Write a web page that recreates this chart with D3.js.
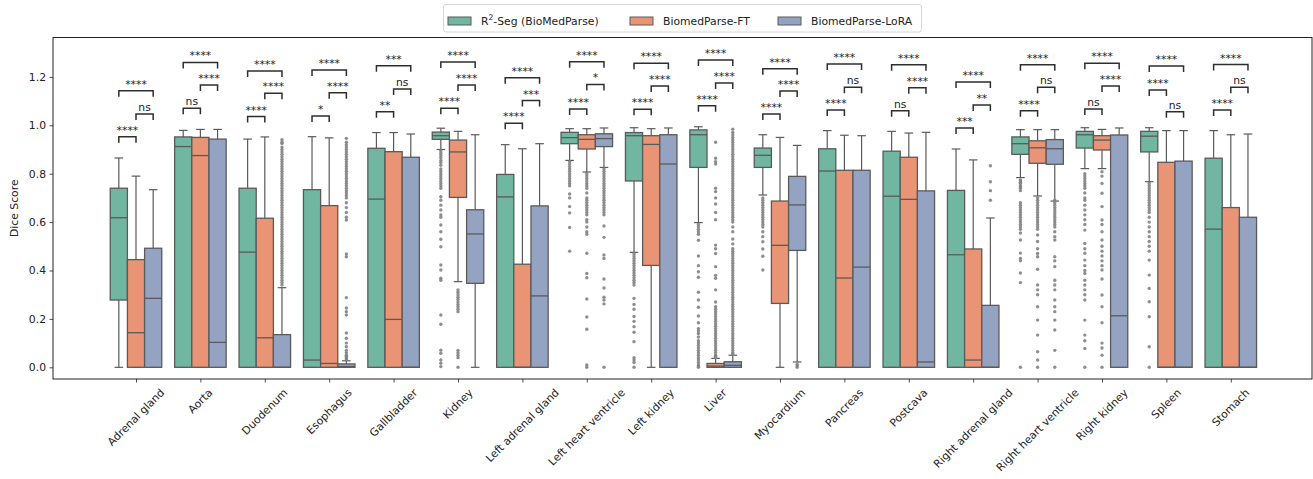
<!DOCTYPE html>
<html><head><meta charset="utf-8">
<script src="https://cdn.jsdelivr.net/npm/d3@7"></script>
<style>
html,body{margin:0;padding:0;background:#fff;}
svg{display:block;font-family:"DejaVu Sans",sans-serif;}
</style></head>
<body><svg id="chart" width="1313" height="479"></svg>
<script>
const categories = ["Adrenal gland","Aorta","Duodenum","Esophagus","Gallbladder","Kidney","Left adrenal gland","Left heart ventricle","Left kidney","Liver","Myocardium","Pancreas","Postcava","Right adrenal gland","Right heart ventricle","Right kidney","Spleen","Stomach"];
const models = ["R2-Seg (BioMedParse)","BiomedParse-FT","BiomedParse-LoRA"];
const yTicks = [0.0,0.2,0.4,0.6,0.8,1.0,1.2];

// R2-Seg (BioMedParse)
const r2Lo  = [0,0,0,0,0,0.90,0,0.855,0.475,0.598,0.712,0,0,0,0.784,0.821,0.767,0];
const r2Q1  = [0.278,0,0,0,0,0.942,0,0.924,0.77,0.826,0.826,0,0,0,0.88,0.906,0.89,0];
const r2Med = [0.618,0.912,0.476,0.03,0.695,0.957,0.704,0.949,0.957,0.961,0.876,0.811,0.707,0.465,0.924,0.961,0.955,0.571];
const r2Q3  = [0.74,0.952,0.74,0.734,0.905,0.972,0.797,0.971,0.97,0.981,0.906,0.903,0.893,0.731,0.952,0.975,0.975,0.864];
const r2Hi  = [0.865,0.979,0.943,0.953,0.97,0.988,0.92,0.986,0.99,0.994,0.961,0.978,0.975,0.902,0.982,0.99,0.99,0.978];
// BiomedParse-FT
const ftLo  = [0,0,0,0,0,0.354,0,0.807,0,0,0,0,0,0,0.708,0.821,0,0];
const ftQ1  = [0,0,0,0,0,0.702,0,0.902,0.421,0,0.264,0,0,0,0.843,0.898,0,0];
const ftMed = [0.143,0.875,0.122,0.016,0.198,0.89,0,0.942,0.921,0.005,0.504,0.369,0.694,0.03,0.907,0.939,0,0];
const ftQ3  = [0.445,0.95,0.616,0.668,0.891,0.939,0.426,0.961,0.957,0.016,0.687,0.814,0.868,0.489,0.936,0.957,0.847,0.66];
const ftHi  = [0.79,0.983,0.952,0.948,0.97,0.975,0.903,0.986,0.986,0.037,0.95,0.959,0.968,0.857,0.982,0.983,0.978,0.961];
// BiomedParse-LoRA
const loLo  = [0,0,0,0,0,0,0,0.826,0,0,0.022,0,0,0,0.687,0,0,0];
const loQ1  = [0,0,0,0,0,0.347,0,0.912,0,0,0.483,0,0,0,0.839,0,0,0];
const loMed = [0.285,0.103,0,0.003,0,0.551,0.295,0.945,0.84,0.008,0.671,0.414,0.022,0,0.903,0.213,0,0];
const loQ3  = [0.492,0.943,0.135,0.014,0.868,0.651,0.667,0.965,0.961,0.023,0.789,0.814,0.729,0.256,0.941,0.96,0.852,0.62];
const loHi  = [0.734,0.983,0.329,0.027,0.964,0.961,0.924,0.989,0.989,0.05,0.917,0.957,0.971,0.617,0.982,0.989,0.978,0.964];

// outliers per category
const r2Out = [[],[],[],[],[],
 [0.895,0.885,0.875,0.866,0.855,0.846,0.835,0.82,0.81,0.8,0.79,0.78,0.77,0.76,0.75,0.74,0.705,0.69,0.67,0.65,0.63,0.62,0.588,0.56,0.529,0.498,0.423,0.402,0.368,0.36,0.216,0.178,0.071,0.058,0.03,0.017,0.003],
 [],
 [0.85,0.84,0.83,0.82,0.81,0.80,0.79,0.78,0.77,0.76,0.75,0.716,0.70,0.664,0.638,0.578,0.48],
 [0.47,0.46,0.45,0.44,0.43,0.42,0.41,0.40,0.39,0.38,0.37,0.36,0.35,0.34,0.285,0.26,0.24,0.21,0.19,0.168,0.145,0.106,0.04,0.03,0.02,0.0],
 [0.59,0.58,0.57,0.56,0.55,0.525,0.46,0.42,0.395,0.372,0.31,0.278,0.248,0.212,0.184,0.16,0.15,0.14,0.125,0.11,0.1,0.09,0.08,0.07,0.06,0.05,0.04,0.03,0.02,0.01,0.005,0.0],
 [0.70,0.69,0.68,0.67,0.66,0.65,0.64,0.63,0.62,0.61,0.60,0.59,0.58,0.56,0.54,0.519,0.489,0.459,0.402],
 [],[],[],
 [0.774,0.77,0.765,0.76,0.75,0.745,0.74,0.73,0.68,0.67,0.66,0.65,0.64,0.63,0.62,0.61,0.60,0.59,0.58,0.57,0.555,0.526,0.472,0.45,0.44,0.39,0.35,0.0],
 [0.80,0.79,0.78,0.77,0.76,0.75,0.74,0.72,0.70,0.69,0.67,0.65,0.63,0.61,0.59,0.567,0.512,0.49,0.471,0.443,0.42,0.40,0.388,0.36,0.34,0.32,0.30,0.278,0.195,0.133,0.11,0.078,0.0],
 [0.76,0.75,0.74,0.73,0.72,0.71,0.70,0.69,0.68,0.67,0.66,0.65,0.64,0.62,0.60,0.58,0.56,0.54,0.52,0.50,0.48,0.443,0.381,0.326,0.271,0.209,0.085,0.0],
 []];
const ftOut = [[],[],[],[],[],
 [0.32,0.31,0.30,0.29,0.28,0.27,0.26,0.25,0.24,0.23,0.07,0.06,0.05,0.04,0.0],
 [],
 [0.80,0.79,0.78,0.77,0.76,0.75,0.74,0.72,0.70,0.69,0.68,0.67,0.66,0.65,0.64,0.63,0.61,0.60,0.58,0.56,0.55,0.471,0.388,0.37,0.282,0.208,0.157,0.01,0.0],
 [],
 [0.93,0.864,0.85,0.84,0.74,0.726,0.70,0.675,0.64,0.61,0.505,0.49,0.47,0.416,0.38,0.368,0.32,0.27,0.25,0.24,0.23,0.22,0.21,0.2,0.19,0.18,0.17,0.16,0.15,0.14,0.13,0.12,0.11,0.10,0.09,0.08,0.07,0.06,0.05,0.045,0.04],
 [],[],[],[],
 [0.70,0.69,0.68,0.67,0.66,0.65,0.64,0.63,0.62,0.61,0.60,0.59,0.58,0.57,0.547,0.52,0.49,0.47,0.457,0.405,0.34,0.32,0.30,0.25,0.195,0.133,0.064,0.03,0.0],
 [0.808,0.79,0.76,0.719,0.664,0.609,0.59,0.56,0.526,0.50,0.48,0.46,0.44,0.42,0.402,0.365,0.299,0.25,0.184,0.10,0.08,0.05,0.0],
 [],[]];
const loOut = [[],[],
 [0.94,0.93,0.925,0.91,0.90,0.89,0.88,0.87,0.86,0.85,0.84,0.83,0.82,0.81,0.80,0.79,0.78,0.77,0.76,0.75,0.74,0.73,0.72,0.71,0.70,0.69,0.68,0.67,0.66,0.65,0.64,0.63,0.62,0.61,0.60,0.59,0.58,0.57,0.56,0.55,0.54,0.53,0.52,0.51,0.50,0.49,0.48,0.47,0.46,0.45,0.44,0.43,0.42,0.41,0.40,0.39,0.38,0.37,0.36,0.35,0.34],
 [0.946,0.93,0.92,0.91,0.90,0.89,0.88,0.87,0.86,0.85,0.84,0.83,0.82,0.81,0.80,0.79,0.78,0.77,0.76,0.75,0.74,0.73,0.72,0.71,0.70,0.68,0.66,0.64,0.62,0.609,0.468,0.457,0.288,0.245,0.23,0.216,0.142,0.12,0.10,0.085,0.07,0.06,0.05,0.045,0.04,0.035,0.03],
 [],[],[],
 [0.82,0.81,0.80,0.79,0.78,0.77,0.76,0.75,0.74,0.73,0.72,0.71,0.70,0.69,0.68,0.67,0.66,0.65,0.64,0.63,0.584,0.537,0.464,0.45,0.365,0.328,0.29,0.278,0.262,0.0],
 [],
 [0.984,0.97,0.96,0.95,0.94,0.93,0.92,0.91,0.90,0.89,0.88,0.87,0.86,0.85,0.84,0.83,0.82,0.81,0.80,0.79,0.78,0.77,0.76,0.75,0.74,0.73,0.72,0.71,0.70,0.69,0.68,0.67,0.66,0.65,0.64,0.63,0.62,0.61,0.60,0.58,0.56,0.53,0.51,0.49,0.48,0.47,0.46,0.45,0.44,0.43,0.42,0.41,0.40,0.39,0.38,0.37,0.36,0.35,0.34,0.33,0.32,0.31,0.30,0.29,0.28,0.27,0.26,0.25,0.24,0.23,0.22,0.21,0.20,0.19,0.18,0.17,0.16,0.15,0.14,0.13,0.12,0.11,0.10,0.09,0.08,0.07,0.06,0.055],
 [0.012,0.006,0.0],
 [],[],
 [0.833,0.767,0.73,0.69],
 [0.69,0.68,0.67,0.66,0.65,0.64,0.63,0.62,0.61,0.60,0.59,0.58,0.56,0.54,0.526,0.457,0.44,0.416,0.36,0.34,0.32,0.278,0.25,0.23,0.195,0.154,0.07,0.0],
 [],[],[]];

// significance annotations: label and bracket height (data units) per pair
const sig01 = ["****","ns","****","*","**","****","****","****","****","****","****","****","ns","***","****","ns","****","****"];
const sig12 = ["ns","****","****","****","ns","****","***","*","****","****","****","ns","****","**","ns","****","ns","ns"];
const sig02 = ["****","****","****","****","***","****","****","****","****","****","****","****","****","****","****","****","****","****"];
const h01 = [0.953,1.070,1.036,1.038,1.056,1.070,1.008,1.067,1.066,1.081,1.047,1.063,1.060,0.989,1.060,1.067,1.146,1.063];
const h12 = [1.047,1.167,1.132,1.135,1.150,1.167,1.102,1.169,1.162,1.175,1.142,1.157,1.155,1.084,1.157,1.162,1.056,1.157];
const h02 = [1.143,1.260,1.224,1.228,1.246,1.262,1.197,1.263,1.256,1.270,1.234,1.253,1.250,1.179,1.250,1.256,1.245,1.251];

const colors = ["#71b6a1","#e99575","#95a3c3"];
const lineCol = "#5a5a5a";
const FS = "10.8px";

const stats = [
  {lo:r2Lo,q1:r2Q1,med:r2Med,q3:r2Q3,hi:r2Hi,out:r2Out},
  {lo:ftLo,q1:ftQ1,med:ftMed,q3:ftQ3,hi:ftHi,out:ftOut},
  {lo:loLo,q1:loQ1,med:loMed,q3:loQ3,hi:loHi,out:loOut}
];

const L = 53, R = 1312, T = 37.5, B = 379;
const svg = d3.select("#chart");
const x = d3.scalePoint().domain(categories).range([136, 1230.8]);
const step = x.step();
const hue = d3.scaleBand().domain(models).range([-0.4*step, 0.4*step]).padding(0);
const bw = hue.bandwidth();
const y = d3.scaleLinear().domain([-0.0483, 1.3628]).range([B, T]);

// axes
const yAxis = d3.axisLeft(y).tickValues(yTicks).tickFormat(d3.format(".1f")).tickSize(3.5).tickPadding(3.5);
const gy = svg.append("g").attr("transform",`translate(${L},0)`).call(yAxis);
gy.select(".domain").remove();
gy.selectAll("text").attr("font-size",FS).attr("fill","#222").attr("font-family","DejaVu Sans");
gy.selectAll("line").attr("stroke","#222").attr("stroke-width",0.8);

const xAxis = d3.axisBottom(x).tickSize(3.5).tickFormat("");
const gx = svg.append("g").attr("transform",`translate(0,${B})`).call(xAxis);
gx.select(".domain").remove();
gx.selectAll("line").attr("stroke","#222").attr("stroke-width",0.8);

// rotated x labels (center-aligned like matplotlib rotation=45)
const xl = svg.append("g");
categories.forEach(c => {
  const t = xl.append("text").text(c).attr("font-size",FS).attr("fill","#222")
    .attr("text-anchor","middle").attr("dominant-baseline","central");
  const w = t.node().getComputedTextLength();
  const h = 12.5;
  const half = (w + h) / (2*Math.SQRT2);
  t.attr("transform",`translate(${x(c)},${B + 7.5 + half}) rotate(-45)`);
});

// y label
svg.append("text").text("Dice Score").attr("font-size",FS).attr("fill","#222")
  .attr("text-anchor","middle").attr("transform",`translate(18,${(T+B)/2}) rotate(-90)`);

// boxes
const gb = svg.append("g");
categories.forEach((c,i) => {
  models.forEach((m,k) => {
    const s = stats[k];
    const cx = x(c) + hue(m) + bw/2;
    const x0 = x(c) + hue(m);
    const g = gb.append("g");
    g.append("line").attr("x1",cx).attr("x2",cx).attr("y1",y(s.q3[i])).attr("y2",y(s.hi[i]))
      .attr("stroke",lineCol).attr("stroke-width",1.2);
    g.append("line").attr("x1",cx).attr("x2",cx).attr("y1",y(s.q1[i])).attr("y2",y(s.lo[i]))
      .attr("stroke",lineCol).attr("stroke-width",1.2);
    [s.hi[i], s.lo[i]].forEach(v => {
      g.append("line").attr("x1",cx-bw/4).attr("x2",cx+bw/4).attr("y1",y(v)).attr("y2",y(v))
        .attr("stroke",lineCol).attr("stroke-width",1.2);
    });
    g.append("rect").attr("x",x0).attr("width",bw)
      .attr("y",y(s.q3[i])).attr("height",Math.max(0.5,y(s.q1[i])-y(s.q3[i])))
      .attr("fill",colors[k]).attr("stroke",lineCol).attr("stroke-width",1.3);
    g.append("line").attr("x1",x0).attr("x2",x0+bw).attr("y1",y(s.med[i])).attr("y2",y(s.med[i]))
      .attr("stroke",lineCol).attr("stroke-width",1.3);
    g.selectAll("circle.f").data(s.out[i]).enter().append("circle")
      .attr("cx",cx).attr("cy",d=>y(d)).attr("r",1.7)
      .attr("fill","#828282").attr("fill-opacity",0.9);
  });
});

// significance brackets
const gs = svg.append("g");
const leg = 6;
function bracket(i, a, b, h, lab){
  const xa = x(categories[i]) + hue(models[a]) + bw/2;
  const xb = x(categories[i]) + hue(models[b]) + bw/2;
  const yy = y(h);
  gs.append("path").attr("d",`M${xa},${yy+leg}V${yy}H${xb}V${yy+leg}`)
    .attr("fill","none").attr("stroke","#2e2e2e").attr("stroke-width",1.5);
  gs.append("text").text(lab).attr("x",(xa+xb)/2).attr("y",yy-3)
    .attr("text-anchor","middle").attr("font-size",FS).attr("fill","#222");
}
categories.forEach((c,i) => {
  bracket(i,0,1,h01[i],sig01[i]);
  bracket(i,1,2,h12[i],sig12[i]);
  bracket(i,0,2,h02[i],sig02[i]);
});

// frame
svg.append("rect").attr("x",L).attr("y",T).attr("width",R-L).attr("height",B-T)
  .attr("fill","none").attr("stroke","#222").attr("stroke-width",1);

// legend
const lg = svg.append("g");
lg.append("rect").attr("x",443.5).attr("y",4.5).attr("width",478).attr("height",27.5).attr("rx",2.5)
  .attr("fill","#fff").attr("fill-opacity",0.8).attr("stroke","#d6d6d6").attr("stroke-width",1);
const legX = [448, 630, 778];
models.forEach((m,k) => {
  lg.append("rect").attr("x",legX[k]).attr("y",17).attr("width",23).attr("height",8)
    .attr("fill",colors[k]).attr("stroke",lineCol).attr("stroke-width",1);
  const t = lg.append("text").attr("x",legX[k]+33).attr("y",24.5).attr("font-size",FS).attr("fill","#222");
  if (k === 0) {
    t.append("tspan").text("R");
    t.append("tspan").text("2").attr("font-size","7.6px").attr("dy",-4.5);
    t.append("tspan").text("-Seg (BioMedParse)").attr("dy",4.5);
  } else {
    t.text(m);
  }
});
</script>
</body></html>
